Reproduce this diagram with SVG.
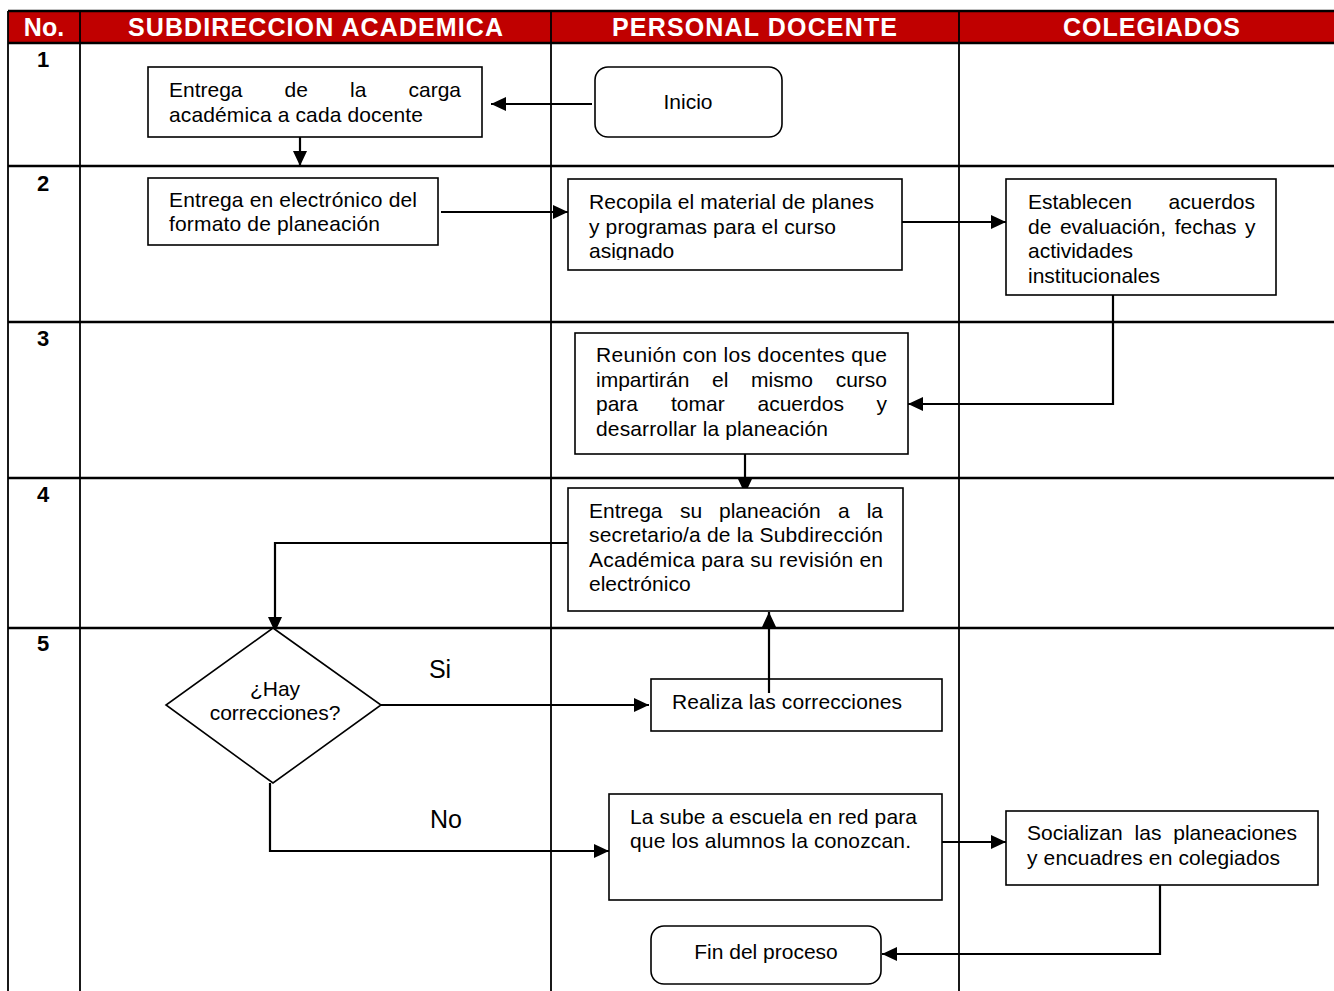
<svg xmlns="http://www.w3.org/2000/svg" width="1334" height="991" viewBox="0 0 1334 991">
<style>
.hdr{font-family:"Liberation Sans",Arial,sans-serif;font-weight:bold;font-size:25px;fill:#fff}
.num{font-family:"Liberation Sans",Arial,sans-serif;font-weight:bold;font-size:22px;fill:#000}
.t{font-family:"Liberation Sans",Arial,sans-serif;font-size:21px;fill:#000}
.big{font-family:"Liberation Sans",Arial,sans-serif;font-size:25px;fill:#000}
.box{fill:#fff;stroke:#000;stroke-width:1.6}
.grid{stroke:#000;fill:none}
.c{fill:none;stroke:#000;stroke-width:2.2}
</style>
<defs>
<marker id="ah" markerUnits="userSpaceOnUse" markerWidth="16" markerHeight="14" refX="15" refY="7" orient="auto">
<path d="M0,0 L15,7 L0,14 z" fill="#000"/>
</marker>
<clipPath id="clipN3"><rect x="568" y="179" width="334" height="81"/></clipPath>
</defs>
<rect width="1334" height="991" fill="#fff"/>
<g id="table">
<rect x="8" y="11" width="1326" height="32" fill="#C00000"/>
<g class="grid" stroke-width="2.6">
<line x1="8" y1="11" x2="1334" y2="11"/>
<line x1="8" y1="43" x2="1334" y2="43"/>
<line x1="8" y1="166" x2="1334" y2="166"/>
<line x1="8" y1="322" x2="1334" y2="322"/>
<line x1="8" y1="478" x2="1334" y2="478"/>
<line x1="8" y1="628" x2="1334" y2="628"/>
</g>
<g class="grid" stroke-width="1.8">
<line x1="8" y1="11" x2="8" y2="991"/>
<line x1="80" y1="11" x2="80" y2="991"/>
<line x1="551" y1="11" x2="551" y2="991"/>
<line x1="959" y1="11" x2="959" y2="991"/>
</g>
<text class="hdr" x="44" y="36" text-anchor="middle">No.</text>
<text class="hdr" x="128" y="36" textLength="375">SUBDIRECCION ACADEMICA</text>
<text class="hdr" x="612" y="36" textLength="285">PERSONAL DOCENTE</text>
<text class="hdr" x="1063" y="36" textLength="177">COLEGIADOS</text>
<text class="num" x="43" y="67" text-anchor="middle">1</text>
<text class="num" x="43" y="191" text-anchor="middle">2</text>
<text class="num" x="43" y="346" text-anchor="middle">3</text>
<text class="num" x="43" y="502" text-anchor="middle">4</text>
<text class="num" x="43" y="651" text-anchor="middle">5</text>
</g>
<g id="connectors">
<line class="c" x1="592" y1="104" x2="491" y2="104" marker-end="url(#ah)"/>
<line class="c" x1="300" y1="137" x2="300" y2="166" marker-end="url(#ah)"/>
<line class="c" x1="441" y1="212" x2="568" y2="212" marker-end="url(#ah)"/>
<line class="c" x1="902" y1="222" x2="1006" y2="222" marker-end="url(#ah)"/>
<polyline class="c" points="1113,295 1113,404 908,404" marker-end="url(#ah)"/>
<line class="c" x1="745" y1="454" x2="745" y2="494" marker-end="url(#ah)"/>
<polyline class="c" points="568,543 275,543 275,632" marker-end="url(#ah)"/>
<line class="c" x1="381" y1="705" x2="649" y2="705" marker-end="url(#ah)"/>
<polyline class="c" points="270,783 270,851 609,851" marker-end="url(#ah)"/>
<line class="c" x1="942" y1="842" x2="1006" y2="842" marker-end="url(#ah)"/>
<polyline class="c" points="1160,885 1160,954 882,954" marker-end="url(#ah)"/>
<text class="big" x="440" y="678" text-anchor="middle">Si</text>
<text class="big" x="446" y="828" text-anchor="middle">No</text>
</g>
<g id="inicio">
<rect class="box" x="595" y="67" width="187" height="70" rx="13"/>
<text class="t" x="688" y="109" text-anchor="middle" font-size="23">Inicio</text>
</g>
<g id="n1">
<rect class="box" x="148" y="67" width="334" height="70"/>
<text class="t" y="97"><tspan x="169">Entrega</tspan><tspan x="284.5">de</tspan><tspan x="350">la</tspan></text>
<text class="t" x="461" y="97" text-anchor="end">carga</text>
<text class="t" x="169" y="122" textLength="254">académica a cada docente</text>
</g>
<g id="n2">
<rect class="box" x="148" y="178" width="290" height="67"/>
<text class="t" x="169" y="207" textLength="248">Entrega en electrónico del</text>
<text class="t" x="169" y="231" textLength="211">formato de planeación</text>
</g>
<g id="n3">
<rect class="box" x="568" y="179" width="334" height="91"/>
<g clip-path="url(#clipN3)">
<text class="t" x="589" y="209" textLength="285">Recopila el material de planes</text>
<text class="t" x="589" y="234" textLength="247">y programas para el curso</text>
<text class="t" x="589" y="258">asignado</text>
</g>
</g>
<g id="n4">
<rect class="box" x="1006" y="179" width="270" height="116"/>
<text class="t" x="1028" y="209">Establecen</text>
<text class="t" x="1255" y="209" text-anchor="end">acuerdos</text>
<text class="t" x="1028" y="234" word-spacing="2.7">de evaluación, fechas y</text>
<text class="t" x="1028" y="258">actividades</text>
<text class="t" x="1028" y="283">institucionales</text>
</g>
<g id="n5">
<rect class="box" x="575" y="333" width="333" height="121"/>
<text class="t" x="596" y="362" textLength="291">Reunión con los docentes que</text>
<text class="t" y="387"><tspan x="596">impartirán</tspan><tspan x="712">el</tspan><tspan x="751">mismo</tspan></text>
<text class="t" x="887" y="387" text-anchor="end">curso</text>
<text class="t" y="411"><tspan x="596">para</tspan><tspan x="671">tomar</tspan><tspan x="757.5">acuerdos</tspan></text>
<text class="t" x="887" y="411" text-anchor="end">y</text>
<text class="t" x="596" y="436" textLength="232">desarrollar la planeación</text>
</g>
<g id="n6">
<rect class="box" x="568" y="488" width="335" height="123"/>
<text class="t" y="518"><tspan x="589">Entrega</tspan><tspan x="680">su</tspan><tspan x="719">planeación</tspan><tspan x="838">a</tspan></text>
<text class="t" x="883" y="518" text-anchor="end">la</text>
<text class="t" x="589" y="542" textLength="294">secretario/a de la Subdirección</text>
<text class="t" x="589" y="567" textLength="294">Académica para su revisión en</text>
<text class="t" x="589" y="591">electrónico</text>
</g>
<g id="decision">
<polygon class="box" points="273,628 381,705 273,783 166,705"/>
<text class="t" x="275" y="696" text-anchor="middle">¿Hay</text>
<text class="t" x="275" y="720" text-anchor="middle">correcciones?</text>
</g>
<g id="n7">
<rect class="box" x="651" y="679" width="291" height="52"/>
<text class="t" x="672" y="709" textLength="230">Realiza las correcciones</text>
<line class="c" x1="769" y1="693" x2="769" y2="612" marker-end="url(#ah)"/>
</g>
<g id="n8">
<rect class="box" x="609" y="794" width="333" height="106"/>
<text class="t" x="630" y="824" textLength="287">La sube a escuela en red para</text>
<text class="t" x="630" y="848" textLength="281">que los alumnos la conozcan.</text>
</g>
<g id="n9">
<rect class="box" x="1006" y="811" width="312" height="74"/>
<text class="t" x="1027" y="840" word-spacing="6">Socializan las planeaciones</text>
<text class="t" x="1027" y="865" textLength="253">y encuadres en colegiados</text>
</g>
<g id="fin">
<rect class="box" x="651" y="926" width="230" height="58" rx="13"/>
<text class="t" x="766" y="959" text-anchor="middle">Fin del proceso</text>
</g>
</svg>
